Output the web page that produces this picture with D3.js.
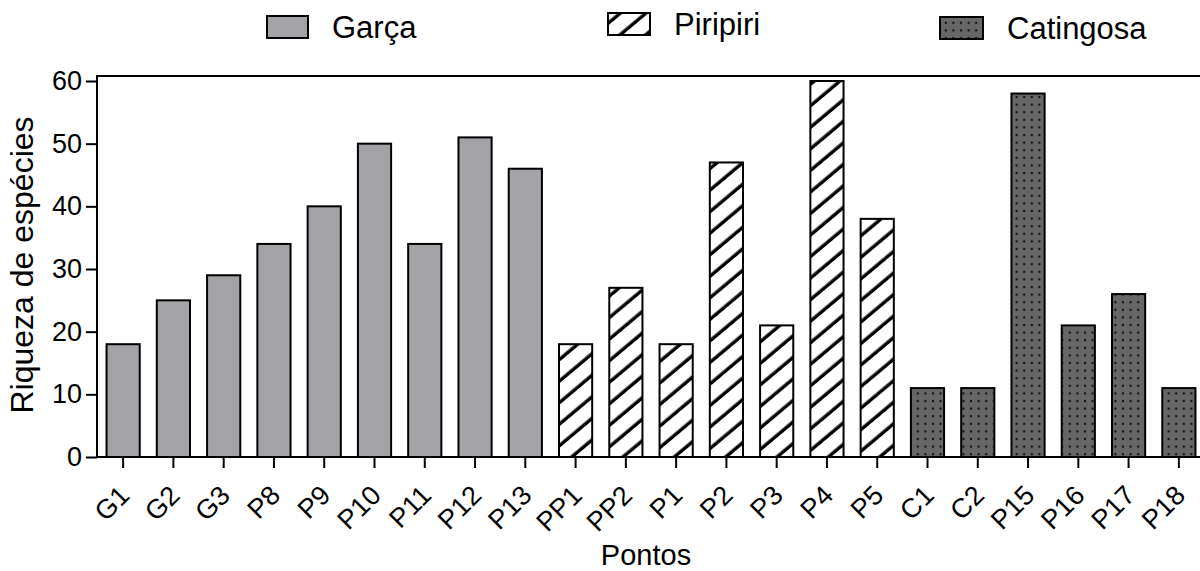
<!DOCTYPE html>
<html>
<head>
<meta charset="utf-8">
<script src="https://cdn.jsdelivr.net/npm/d3@7"></script>
<style>
  html, body { margin: 0; padding: 0; background: #fff; }
  svg { display: block; font-family: "Liberation Sans", Arial, sans-serif; }
</style>
</head>
<body>
<svg id="chart" width="1200" height="571"></svg>
<script>
// Sampling points, grouped by site
const categories = ["G1","G2","G3","P8","P9","P10","P11","P12","P13",
                    "PP1","PP2","P1","P2","P3","P4","P5",
                    "C1","C2","P15","P16","P17","P18"];
const groups = ["Garça","Garça","Garça","Garça","Garça","Garça","Garça","Garça","Garça",
                "Piripiri","Piripiri","Piripiri","Piripiri","Piripiri","Piripiri","Piripiri",
                "Catingosa","Catingosa","Catingosa","Catingosa","Catingosa","Catingosa"];
// Species richness per point
const richness = [18,25,29,34,40,50,34,51,46,
                  18,27,18,47,21,60,38,
                  11,11,58,21,26,11];
const legendNames = ["Garça","Piripiri","Catingosa"];
const yTicks = [0,10,20,30,40,50,60];

const svg = d3.select("#chart");
const W = 1200;
const left = 97, bottom = 457, topY = 76;

const x = d3.scaleBand().domain(categories).range([98, 1204]).paddingInner(0.34).paddingOuter(0.17);
const y = d3.scaleLinear().domain([0, 60]).range([457, 81]);

// Fill patterns
const defs = svg.append("defs");
const hatch = defs.append("pattern").attr("id", "hatch")
  .attr("patternUnits", "userSpaceOnUse").attr("width", 16.5).attr("height", 16.5)
  .attr("patternTransform", "rotate(50)");
hatch.append("rect").attr("width", 16.5).attr("height", 16.5).attr("fill", "#fff");
hatch.append("line").attr("x1", 8).attr("x2", 8).attr("y1", 0).attr("y2", 16.5)
  .attr("stroke", "#000").attr("stroke-width", 3.4);

const dots = defs.append("pattern").attr("id", "dots")
  .attr("patternUnits", "userSpaceOnUse").attr("width", 7.6).attr("height", 7.6)
  .attr("x", 2).attr("y", 2);
dots.append("rect").attr("width", 7.6).attr("height", 7.6).attr("fill", "#676767");
dots.append("circle").attr("cx", 3.8).attr("cy", 3.8).attr("r", 1.2).attr("fill", "#111");

const fillFor = g => g === "Garça" ? "#a3a3a7" : g === "Piripiri" ? "url(#hatch)" : "url(#dots)";

// Bars
svg.append("g").selectAll("rect").data(categories).join("rect")
  .attr("x", d => x(d))
  .attr("y", (d, i) => y(richness[i]))
  .attr("width", x.bandwidth())
  .attr("height", (d, i) => y(0) - y(richness[i]))
  .attr("fill", (d, i) => fillFor(groups[i]))
  .attr("stroke", "#000").attr("stroke-width", 2);

// Y axis
const yAxis = svg.append("g").attr("transform", `translate(${left},0)`)
  .call(d3.axisLeft(y).tickValues(yTicks).tickSize(11).tickSizeOuter(0).tickPadding(4));
yAxis.select(".domain").remove();
yAxis.selectAll(".tick line").attr("stroke", "#000").attr("stroke-width", 2);
yAxis.selectAll(".tick text").attr("font-size", 27).attr("fill", "#000")
  .attr("font-family", "Liberation Sans, Arial, sans-serif");

// X axis
const xAxis = svg.append("g").attr("transform", `translate(0,${bottom})`)
  .call(d3.axisBottom(x).tickSize(11).tickSizeOuter(0));
xAxis.select(".domain").remove();
xAxis.selectAll(".tick line").attr("stroke", "#000").attr("stroke-width", 2);
xAxis.selectAll(".tick text")
  .attr("x", 0).attr("y", 0).attr("dy", null)
  .attr("text-anchor", "end")
  .attr("transform", "translate(8,40) rotate(-45)")
  .attr("font-size", 27).attr("fill", "#000")
  .attr("font-family", "Liberation Sans, Arial, sans-serif");

// Frame lines: left axis, baseline and top edge
const frame = svg.append("g").attr("stroke", "#000").attr("stroke-width", 2);
frame.append("line").attr("x1", left).attr("x2", left).attr("y1", bottom + 1).attr("y2", topY);
frame.append("line").attr("x1", left).attr("x2", W).attr("y1", bottom).attr("y2", bottom);
frame.append("line").attr("x1", left - 1).attr("x2", W).attr("y1", topY).attr("y2", topY);

// Axis titles
svg.append("text").attr("x", 646).attr("y", 565).attr("text-anchor", "middle")
  .attr("font-size", 29).attr("fill", "#000").text("Pontos");
svg.append("text").attr("transform", "translate(33,265) rotate(-90)").attr("text-anchor", "middle")
  .attr("font-size", 32).attr("fill", "#000").text("Riqueza de espécies");

// Legend
const legendX = [267, 608, 940];
const legendBoxY = [16, 13, 17];
const legendW = [41, 42, 43];
const legend = svg.append("g").selectAll("g").data(legendNames).join("g")
  .attr("transform", (d, i) => `translate(${legendX[i]},${legendBoxY[i]})`);
legend.append("rect").attr("width", (d, i) => legendW[i]).attr("height", 22)
  .attr("fill", d => fillFor(d)).attr("stroke", "#000").attr("stroke-width", 2);
legend.append("text").attr("x", (d, i) => legendW[i] + 24).attr("y", 22)
  .attr("font-size", 31).attr("fill", "#000").text(d => d);
</script>
</body>
</html>
